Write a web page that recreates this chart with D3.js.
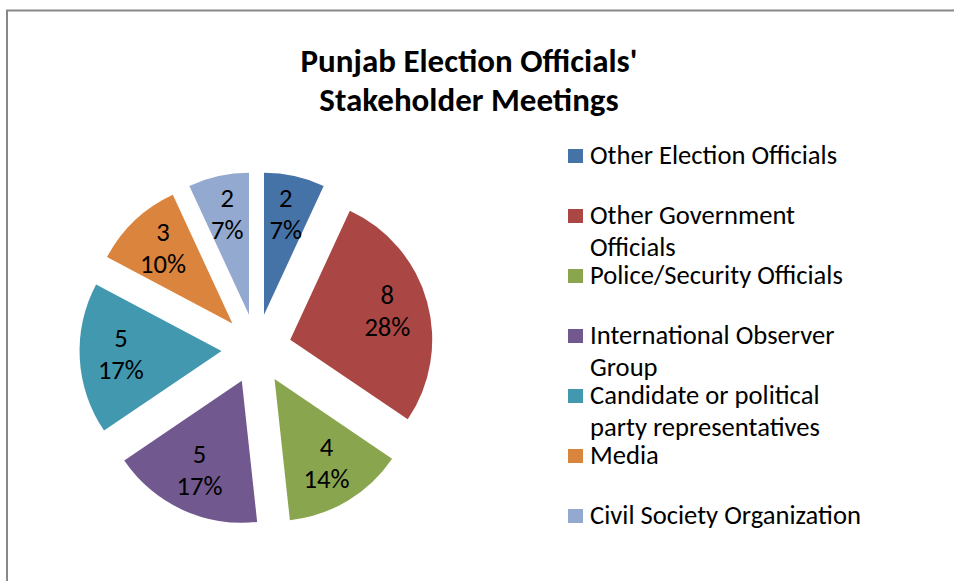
<!DOCTYPE html>
<html>
<head>
<meta charset="utf-8">
<script src="https://cdn.jsdelivr.net/npm/d3@7"></script>
<style>
  html, body { margin: 0; padding: 0; background: #fff; }
  svg { display: block; }
  text { font-family: Carlito, Calibri, Lato, "Open Sans", sans-serif; fill: #000; }
</style>
</head>
<body>
<svg id="chart" width="954" height="581"></svg>
<script>
const titleLines = ["Punjab Election Officials'", "Stakeholder Meetings"];
const categories = [
  "Other Election Officials",
  "Other Government Officials",
  "Police/Security Officials",
  "International Observer Group",
  "Candidate or political party representatives",
  "Media",
  "Civil Society Organization"
];
const values = [2, 8, 4, 5, 5, 3, 2];
const colors = ["#4572A7", "#AA4643", "#89A54E", "#71588F", "#4198AF", "#DB843D", "#93A9CF"];

const svg = d3.select("#chart");
const W = 954, H = 581;

// outer chart border (extends past the viewport on right and bottom)
svg.append("rect")
  .attr("x", 7).attr("y", 10.5)
  .attr("width", W + 20).attr("height", H + 20)
  .attr("fill", "none").attr("stroke", "#888").attr("stroke-width", 2);

// title
svg.append("text")
  .attr("x", 469).attr("y", 72)
  .attr("text-anchor", "middle")
  .style("font-weight", "bold").style("font-size", "33px")
  .selectAll("tspan").data(titleLines).join("tspan")
  .attr("x", 469).attr("dy", (d, i) => i === 0 ? 0 : 39)
  .text(d => d);

// pie
const cx = 256.5, cy = 349, R = 142, explode = 35, labelFrac = 0.71;
const total = d3.sum(values);
const pie = d3.pie().sort(null).value(d => d)(values);
const arc = d3.arc().innerRadius(0).outerRadius(R);
const labelArc = d3.arc().innerRadius(R * labelFrac).outerRadius(R * labelFrac);

const g = svg.append("g").attr("transform", `translate(${cx},${cy})`);
const slices = g.selectAll("g.slice").data(pie).join("g")
  .attr("class", "slice")
  .attr("transform", d => {
    const a = (d.startAngle + d.endAngle) / 2;
    return `translate(${explode * Math.sin(a)},${-explode * Math.cos(a)})`;
  });

slices.append("path")
  .attr("d", arc)
  .attr("fill", (d, i) => colors[i]);

slices.append("text")
  .attr("text-anchor", "middle")
  .style("font-size", "26.6px")
  .each(function(d) {
    const [lx, ly] = labelArc.centroid(d);
    const t = d3.select(this);
    const pct = Math.round(d.value / total * 100) + "%";
    t.append("tspan").attr("x", lx).attr("y", ly - 18).attr("dominant-baseline", "central").text(d.value);
    t.append("tspan").attr("x", lx).attr("y", ly + 14).attr("dominant-baseline", "central").text(pct);
  });

// legend
const legX = 568, legY0 = 156, legStep = 60, lineH = 32, textX = 590, maxW = 280;
const leg = svg.append("g");
categories.forEach((name, i) => {
  const y = legY0 + i * legStep;
  leg.append("rect")
    .attr("x", legX).attr("y", y - 7)
    .attr("width", 15).attr("height", 14)
    .attr("fill", colors[i]);
  const t = leg.append("text")
    .attr("x", textX).attr("y", y + 8)
    .style("font-size", "26.6px");
  // wrap words by measured width
  const words = name.split(" ");
  let line = [];
  let lineNo = 0;
  let tspan = t.append("tspan").attr("x", textX).attr("y", y + 8);
  words.forEach(w => {
    line.push(w);
    tspan.text(line.join(" "));
    if (tspan.node().getComputedTextLength() > maxW && line.length > 1) {
      line.pop();
      tspan.text(line.join(" "));
      line = [w];
      lineNo++;
      tspan = t.append("tspan").attr("x", textX).attr("y", y + 8 + lineNo * lineH).text(w);
    }
  });
});
</script>
</body>
</html>
